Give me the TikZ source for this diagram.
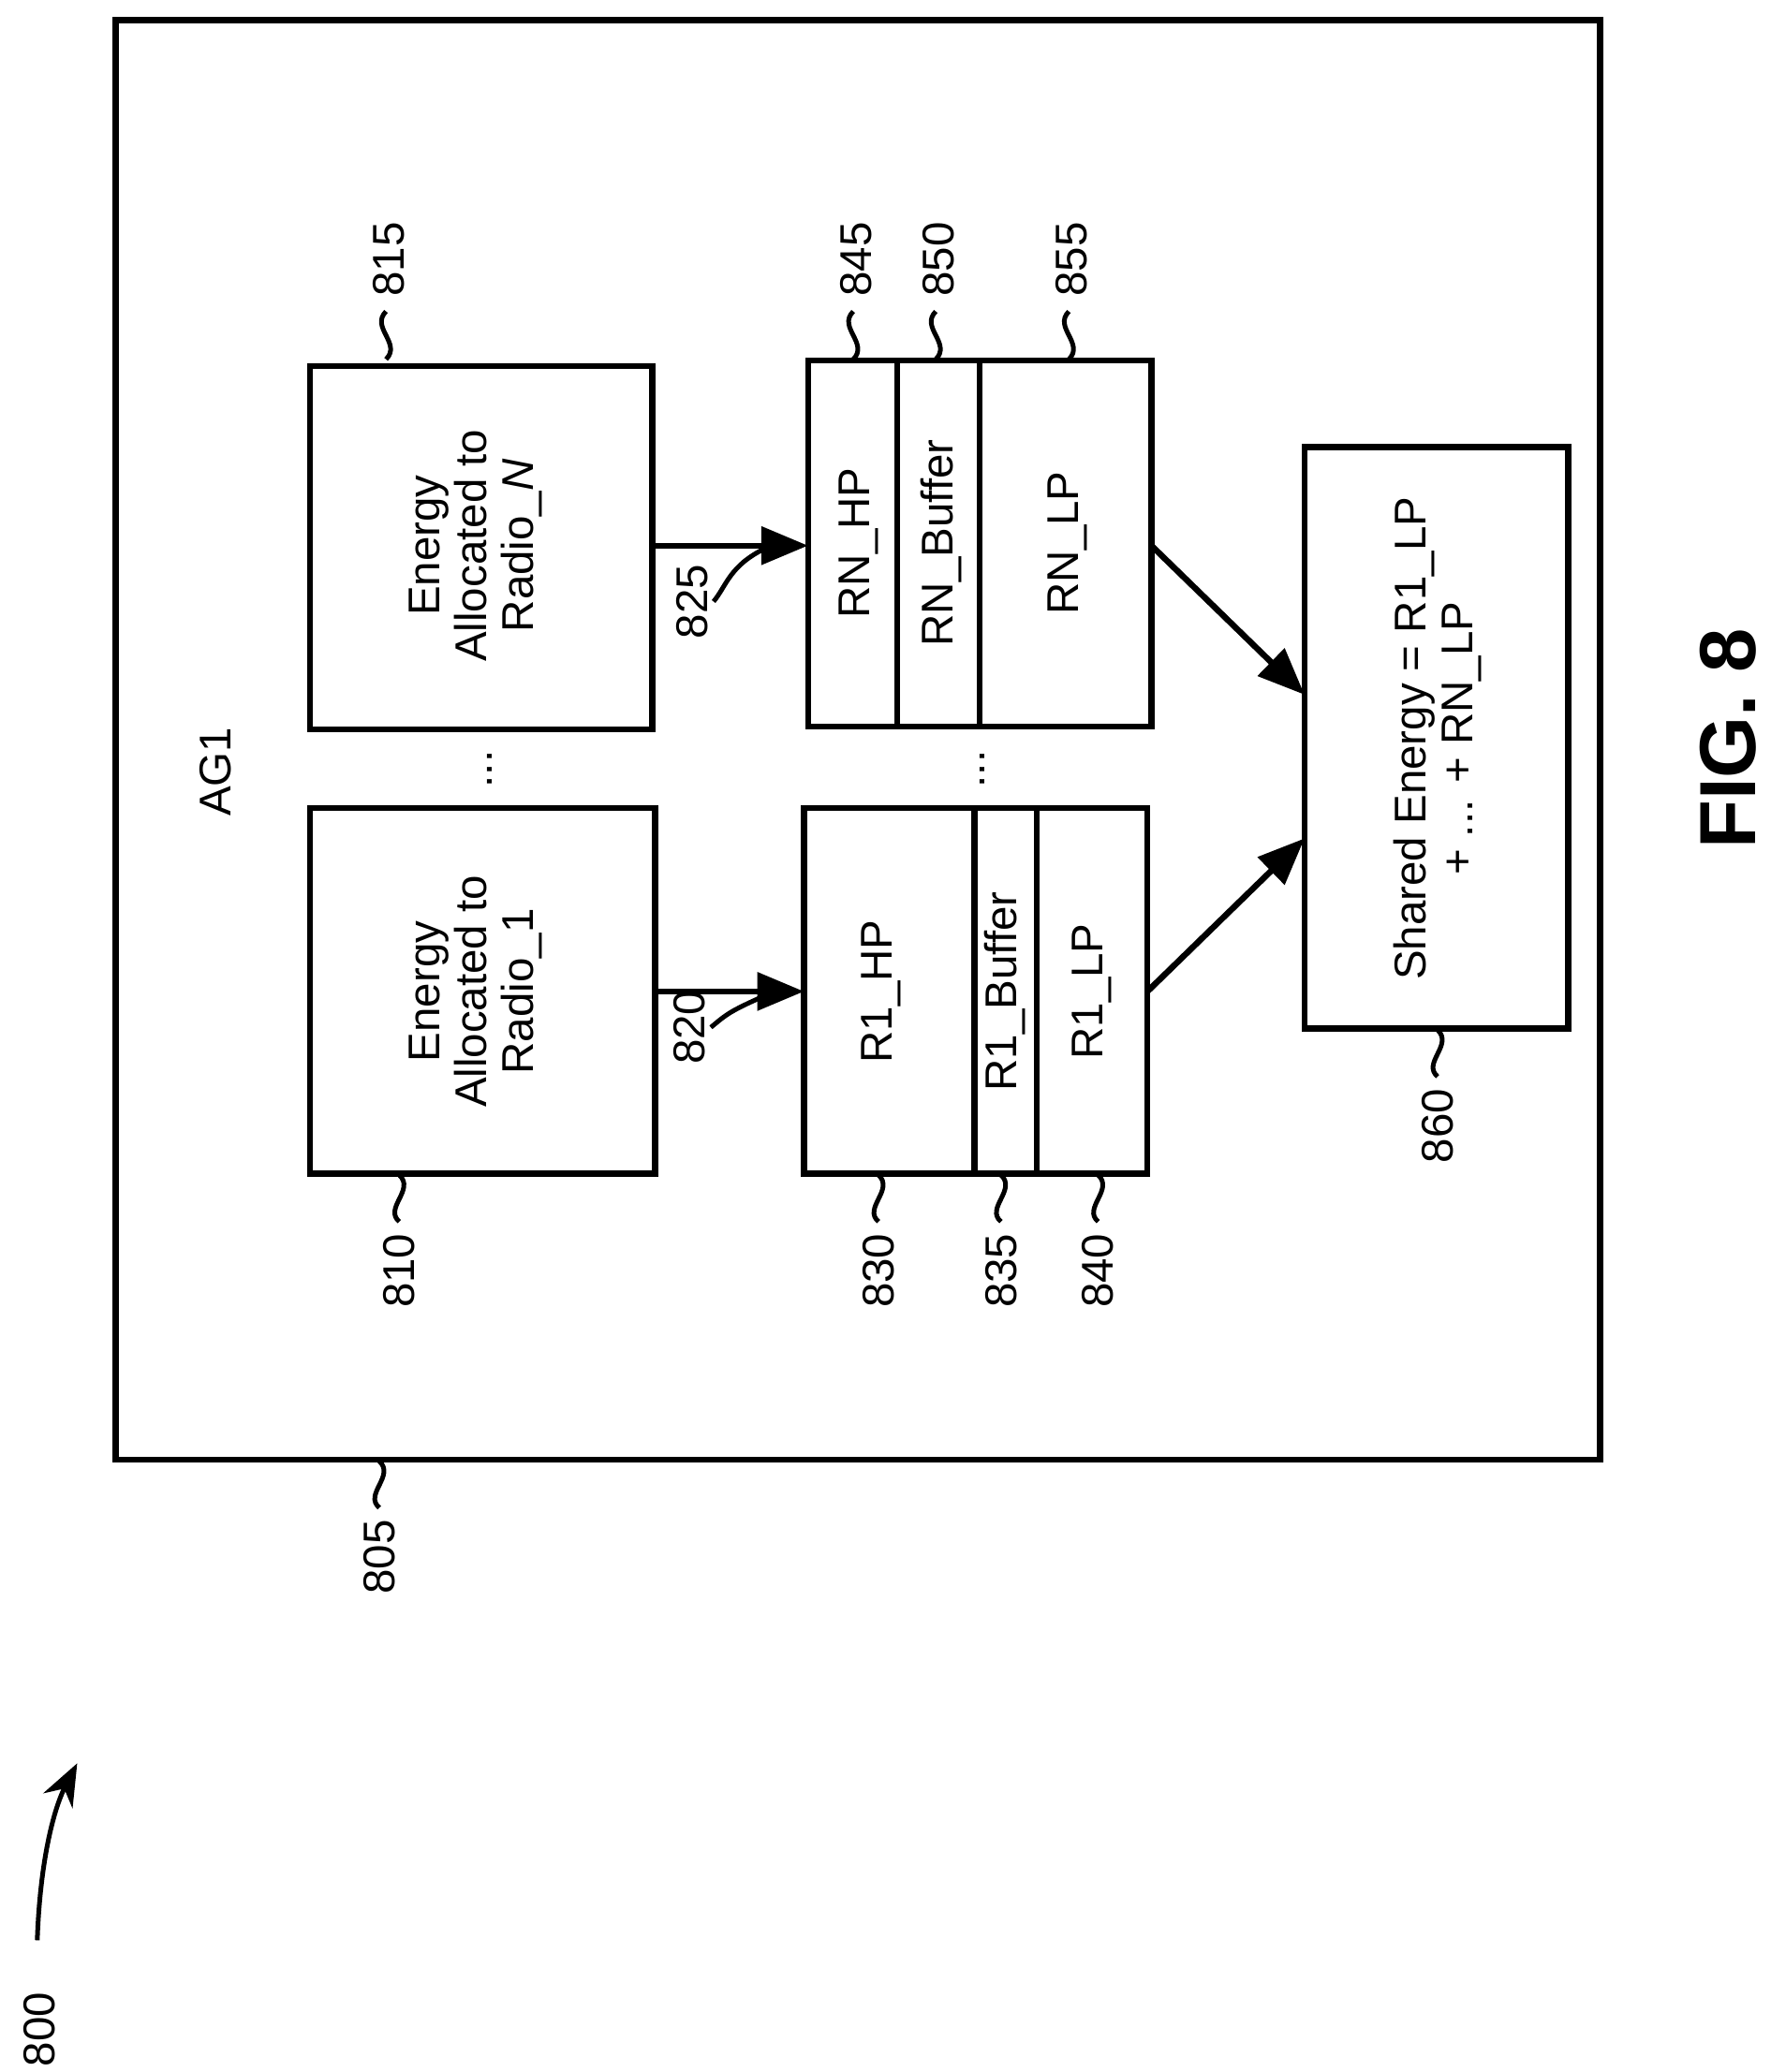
\documentclass[tikz,border=0pt]{standalone}
\usepackage{fontspec}
\setmainfont{Liberation Sans}
\usetikzlibrary{arrows.meta}
\begin{document}
\begin{tikzpicture}[x=0.01cm,y=-0.01cm,
  box/.style={draw,line width=1.3pt},
  txt/.style={rotate=90,align=center,font=\fontsize{9.5}{10}\selectfont},
  lab/.style={rotate=90,font=\fontsize{9.5}{10}\selectfont,inner sep=1pt},
  arr/.style={line width=1.3pt,-{Triangle[length=10pt,width=8pt]}},
  sq/.style={line width=1pt}]
\useasboundingbox (0,0) rectangle (1330,1557);
\draw[box] (87,15) rectangle (1202,1097);
\node[txt] (ag) at (162,580) {AG1};
% left boxes
\draw[box] (233,607) rectangle (492,882);
\node[txt] (b810) at (357,745) {Energy\\Allocated to\\Radio\_1};
\draw[box] (233,275) rectangle (490,548);
\node[txt] (b815) at (357,410) {Energy\\Allocated to\\Radio\_\textit{N}};
\node[txt] (d1) at (368,578) {...};
% stacks
\draw[box] (604,607) rectangle (862,882);
\draw[box] (732,607) -- (732,882) (779,607) -- (779,882);
\node[txt] (r1hp) at (662,745) {R1\_HP};
\node[txt] (r1buf) at (755,745) {R1\_Buffer};
\node[txt] (r1lp) at (820,745) {R1\_LP};
\draw[box] (607,271) rectangle (865,546);
\draw[box] (674,271) -- (674,546) (736,271) -- (736,546);
\node[txt] (rnhp) at (645,408) {RN\_HP};
\node[txt] (rnbuf) at (707,408) {RN\_Buffer};
\node[txt] (rnlp) at (802,408) {RN\_LP};
\node[txt] (d2) at (738,578) {...};
% shared
\draw[box] (980,336) rectangle (1178,773);
\node[txt] (sh) at (1080,555) {Shared Energy = R1\_LP\\+ ... + RN\_LP};
% arrows
\coordinate (a1s) at (492,745); \coordinate (a1e) at (604,745);
\coordinate (a2s) at (490,410); \coordinate (a2e) at (607,410);
\coordinate (a3s) at (865,410); \coordinate (a3e) at (980,522);
\coordinate (a4s) at (862,745); \coordinate (a4e) at (980,630);
\draw[arr] (a1s) -- (a1e);
\draw[arr] (a2s) -- (a2e);
\draw[arr] (a3s) -- (a3e);
\draw[arr] (a4s) -- (a4e);
% top labels
\foreach \n/\x/\y in {815/292/195,845/643/195,850/705/195,855/805/195}{
  \node[lab,anchor=center] (l\n) at (\x,\y) {\n};
  \draw[sq] (\x-2,234) .. controls (\x-14,246) and (\x+10,258) .. (\x-2,270);
}
% bottom labels
\foreach \n/\x/\yb in {810/300/882,830/660/882,835/752/882,840/825/882,860/1080/773,805/285/1097}{
  \node[lab] (l\n) at (\x,\yb+73) {\n};
  \draw[sq] (\x,\yb+36) .. controls (\x-12,\yb+26) and (\x+12,\yb+12) .. (\x,\yb+1);
}
% 825 / 820
\node[lab] (l825) at (520,452) {825};
\draw[sq] (l825.south) .. controls (546,440) and (548,425) .. (575,412);
\node[lab] (l820) at (518,772) {820};
\draw[sq] (l820.south) .. controls (546,762) and (548,760) .. (575,748);
% 800
\node[lab] (l800) at (30,1525) {800};
\coordinate (c800) at (28,1458);
\coordinate (e800) at (58,1325);
\draw[line width=1pt,-{Stealth[length=9pt,width=7pt]}] (c800) .. controls (30,1400) and (40,1360) .. (e800);
\node[rotate=90,font=\bfseries\fontsize{17}{20}\selectfont] (fig) at (1298,555) {FIG. 8};
\end{tikzpicture}
\end{document}
